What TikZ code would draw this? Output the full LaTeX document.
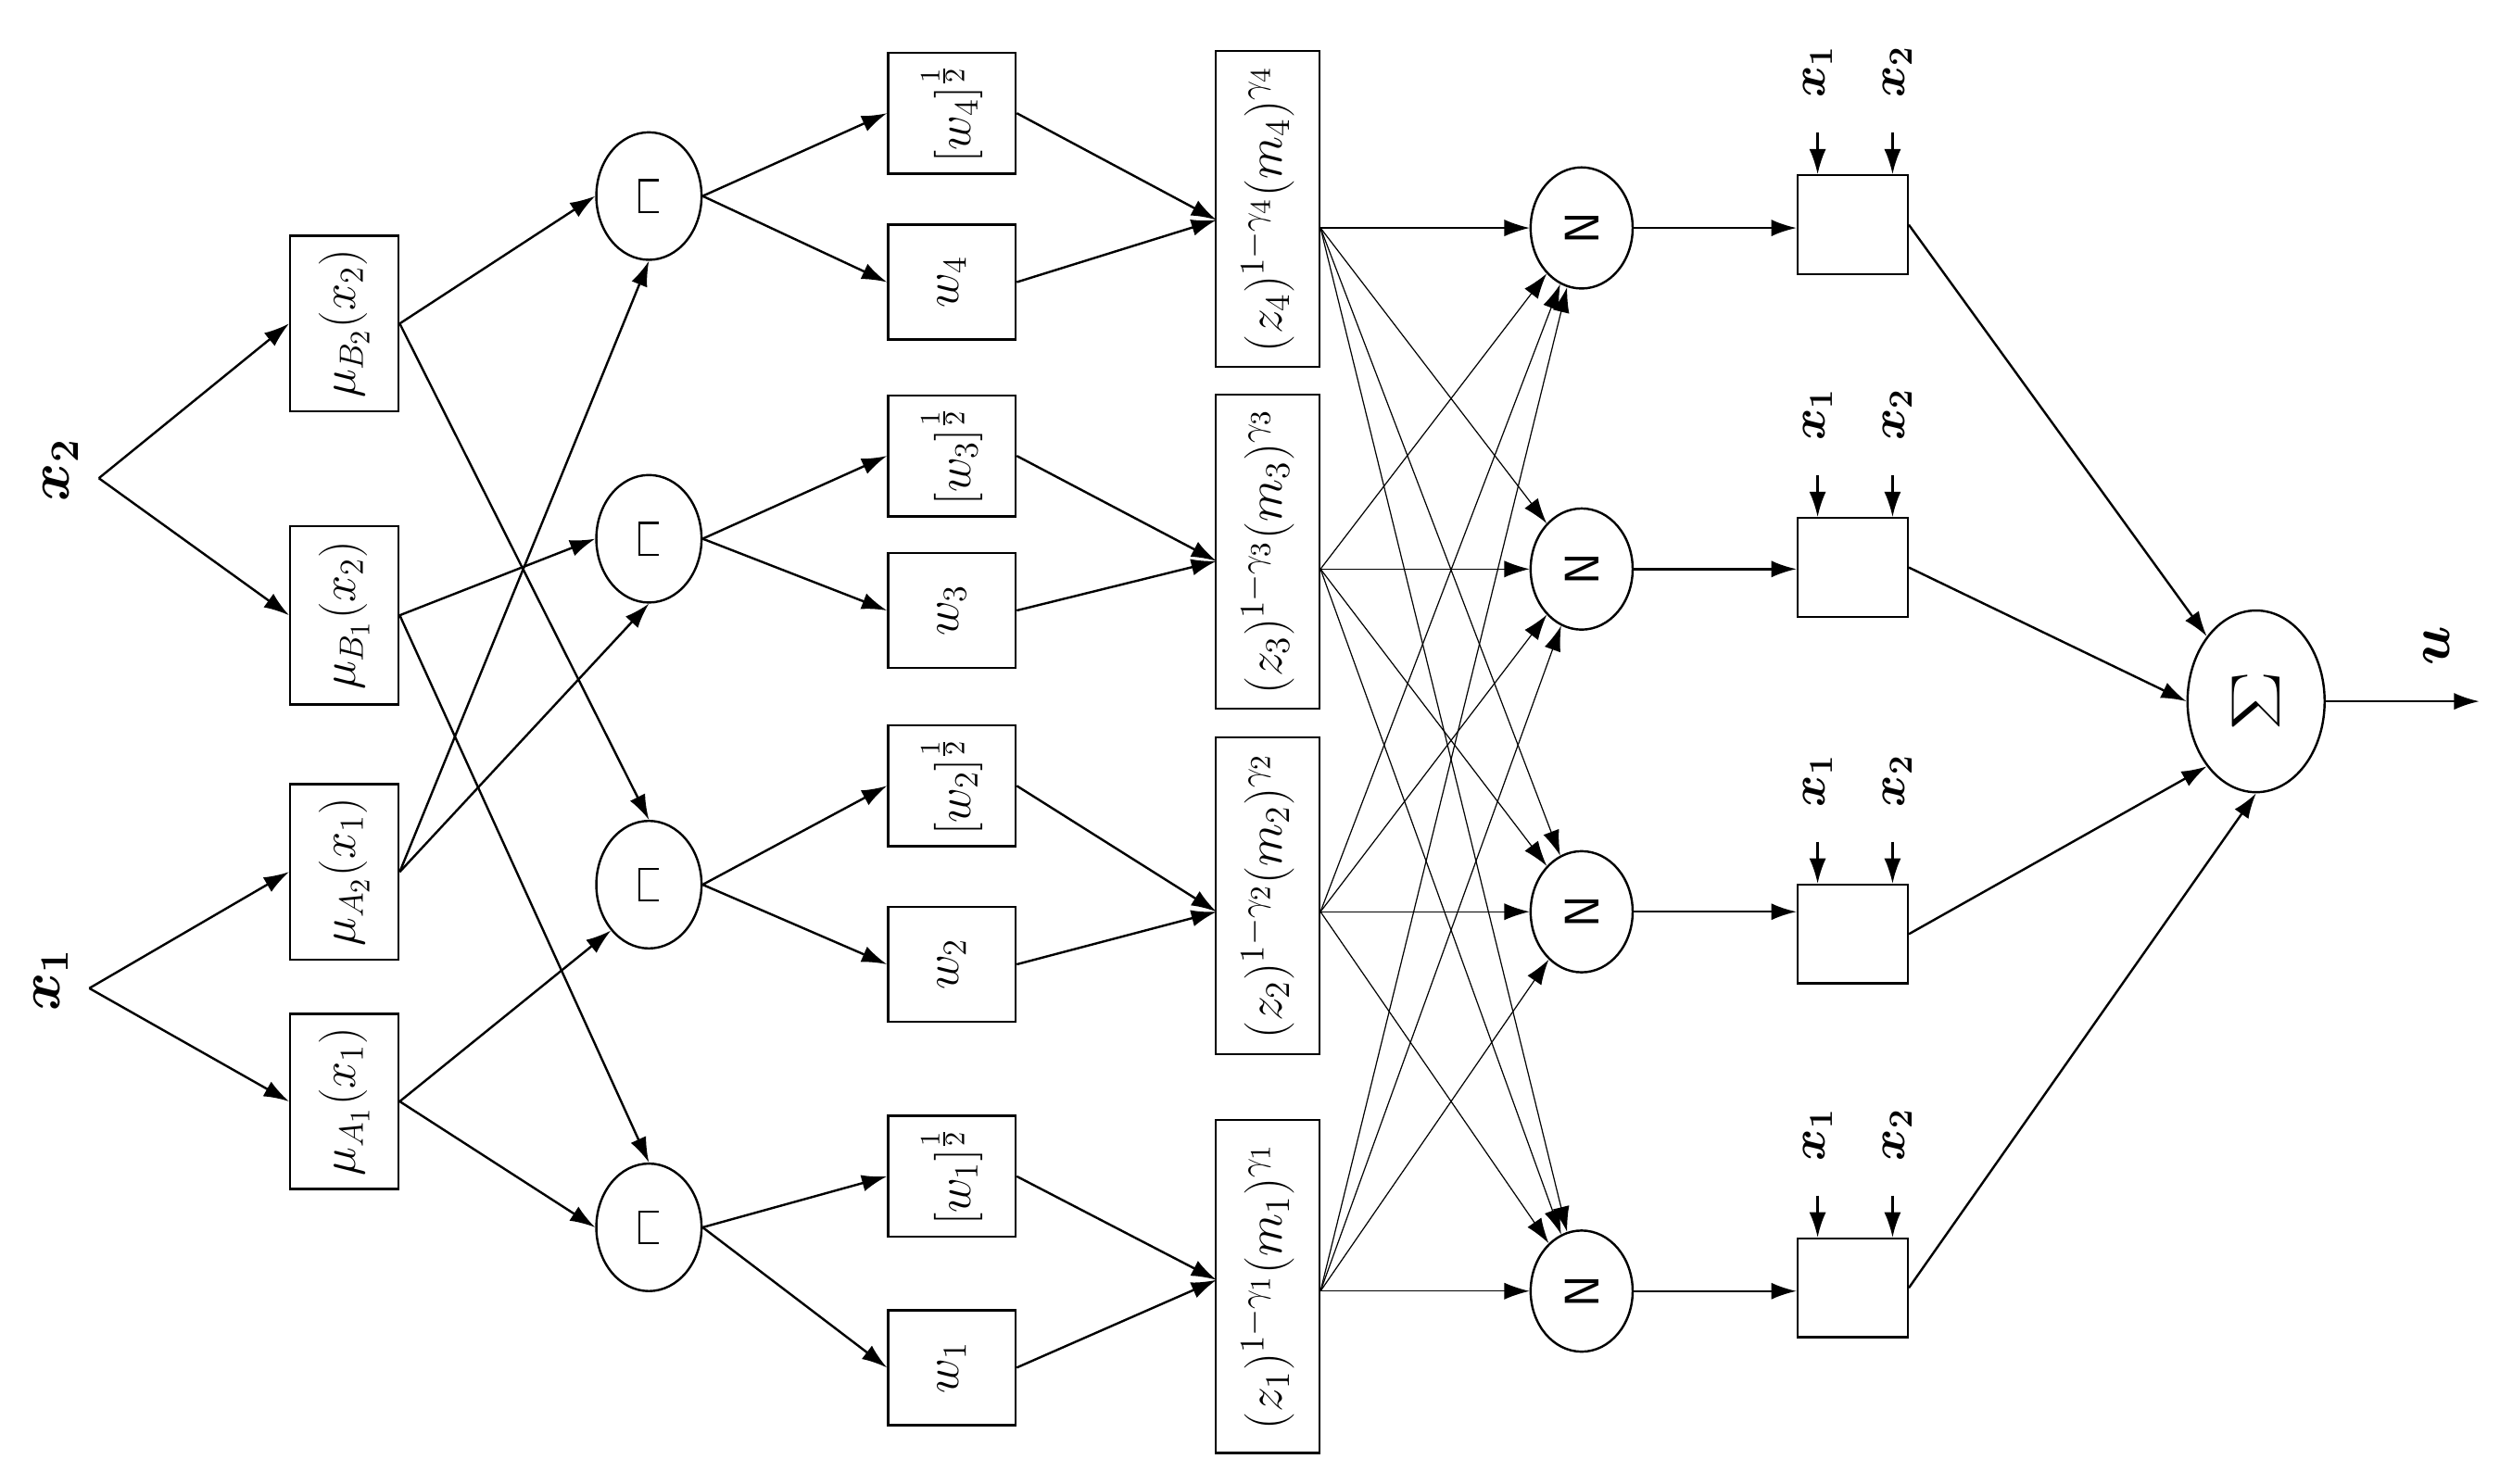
\documentclass[tikz,border=0pt]{standalone}
\usepackage{amsmath,bm}
\usetikzlibrary{shapes.geometric,arrows.meta}
\begin{document}
\begin{tikzpicture}[x=0.02cm,y=-0.02cm,
  box/.style={draw,thick,inner sep=0pt},
  ell/.style={draw,thick,ellipse,inner sep=0pt},
  lab/.style={rotate=90,font=\LARGE},
  big/.style={rotate=90,font=\huge\bfseries},
  ar/.style={-{Latex[length=9pt,width=6pt]},thick}]
\useasboundingbox (0,0) rectangle (1568,931);
% inputs
\node[big] (x2) at (38,295) {$\bm{x_2}$};
\coordinate (x2r) at (62,300);
\node[big] (x1) at (32,615) {$\bm{x_1}$};
\coordinate (x1r) at (56,620);
% layer 1
\node[box,minimum width=68*0.02cm,minimum height=110*0.02cm] (B2) at (216,203) {};
\node[lab] at (B2) {$\mu_{B_2}(x_2)$};
\node[box,minimum width=68*0.02cm,minimum height=112*0.02cm] (B1) at (216,386) {};
\node[lab] at (B1) {$\mu_{B_1}(x_2)$};
\node[box,minimum width=68*0.02cm,minimum height=110*0.02cm] (A2) at (216,547) {};
\node[lab] at (A2) {$\mu_{A_2}(x_1)$};
\node[box,minimum width=68*0.02cm,minimum height=110*0.02cm] (A1) at (216,691) {};
\node[lab] at (A1) {$\mu_{A_1}(x_1)$};
\draw[ar] (x2r) -- (B2.west);
\draw[ar] (x2r) -- (B1.west);
\draw[ar] (x1r) -- (A2.west);
\draw[ar] (x1r) -- (A1.west);
% Pi layer
\foreach \n/\y in {4/123,3/338,2/555,1/770}{
  \node[ell,minimum width=66*0.02cm,minimum height=80*0.02cm] (P\n) at (407,\y) {};
  \draw[thick] ([shift={(6,-10)}]P\n.center) -- ++(-12,0) -- ++(0,20) -- ++(12,0);
}
\draw[ar] (B2.east) -- (P4.west);
\draw[ar] (B2.east) -- (P2.north);
\draw[ar] (B1.east) -- (P3.west);
\draw[ar] (B1.east) -- (P1.north);
\draw[ar] (A2.east) -- (P4.south);
\draw[ar] (A2.east) -- (P3.south);
\draw[ar] (A1.east) -- (P2.south west);
\draw[ar] (A1.east) -- (P1.west);
% w layer
\foreach \n/\ya/\yb in {4/71/177,3/286/383,2/493/605,1/738/858}{
  \node[box,minimum width=80*0.02cm,minimum height=76*0.02cm] (R\n) at (597,\ya) {};
  \node[lab] at (R\n) {$[w_\n]^{\frac{1}{2}}$};
  \node[box,minimum width=80*0.02cm,minimum height=72*0.02cm] (W\n) at (597,\yb) {};
  \node[lab] at (W\n) {$w_\n$};
  \draw[ar] (P\n.east) -- (R\n.west);
  \draw[ar] (P\n.east) -- (W\n.west);
}
% T layer
\foreach \n/\y/\h/\t in {4/131/198/138,3/346/197/352,2/562/199/572,1/807/209/803}{
  \node[box,minimum width=65*0.02cm,minimum height=\h*0.02cm] (T\n) at (795,\y) {};
  \node[lab,scale=1.03] at (T\n) {$(z_\n)^{1-\gamma_\n}(m_\n)^{\gamma_\n}$};
  \coordinate (Ti\n) at (763,\t);
  \draw[ar] (R\n.east) -- (Ti\n);
  \draw[ar] (W\n.east) -- (Ti\n);
}
% N layer
\foreach \n/\y in {4/143,3/357,2/572,1/810}{
  \node[ell,minimum width=64*0.02cm,minimum height=76*0.02cm] (N\n) at (992,\y) {};
  \node[rotate=90,font=\LARGE\sffamily] at (N\n) {N};
}
\foreach \a in {1,2,3,4}{
  \foreach \b in {1,2,3,4}{
    \draw[ar,thin] (T\a.east |- N\a) -- (N\b);
  }
}
% small boxes
\foreach \n/\y in {4/141,3/356,2/586,1/808}{
  \node[box,minimum width=69*0.02cm,minimum height=62*0.02cm] (S\n) at (1162,\y) {};
  \draw[ar] (N\n.east) -- (S\n.west |- N\n);
  \node[big,font=\LARGE] (a\n) at (1140,\y-96) {$\bm{x_1}$};
  \node[big,font=\LARGE] (b\n) at (1190,\y-96) {$\bm{x_2}$};
  \coordinate (ca\n) at (1140,\y-58);
  \coordinate (cb\n) at (1187,\y-58);
  \draw[ar] (ca\n) -- (ca\n |- S\n.north);
  \draw[ar] (cb\n) -- (cb\n |- S\n.north);
}
% Sigma
\node[ell,minimum width=86*0.02cm,minimum height=114*0.02cm] (Sg) at (1415,440) {};
\node[rotate=90,font=\Huge,xscale=1.3] at (Sg) {$\Sigma$};
\draw[ar] (S4.east) -- (Sg.north west);
\draw[ar] (S3.east) -- (Sg.west);
\draw[ar] (S2.east) -- (Sg.south west);
\draw[ar] (S1.east) -- (Sg.south);
\coordinate (out) at (1555,440);
\draw[ar] (Sg.east) -- (out);
\node[big] (u) at (1528,405) {$\bm{u}$};
\end{tikzpicture}
\end{document}
